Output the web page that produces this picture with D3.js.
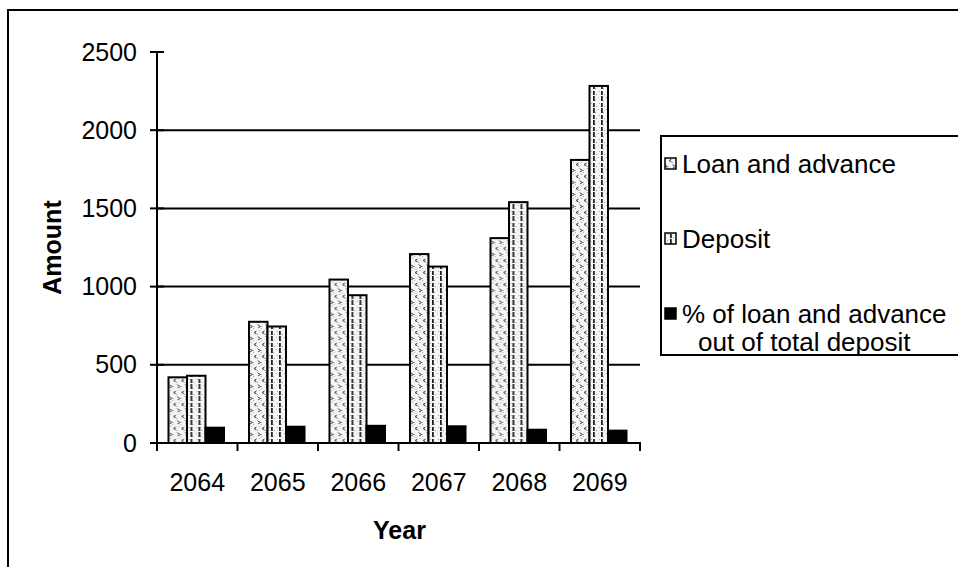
<!DOCTYPE html>
<html>
<head>
<meta charset="utf-8">
<script src="https://cdn.jsdelivr.net/npm/d3@7"></script>
<style>
  body { margin: 0; background: #fff; }
  text { font-family: "Liberation Sans", Arial, sans-serif; fill: #000; }
</style>
</head>
<body>
<svg width="958" height="567"></svg>
<script>
// data
var years = ["2064", "2065", "2066", "2067", "2068", "2069"];
var loanAdvance = [420, 775, 1045, 1208, 1310, 1810];
var deposit = [430, 745, 945, 1128, 1540, 2283];
var loanPct = [98, 104, 110, 107, 85, 79];
var seriesNames = ["Loan and advance", "Deposit", "% of loan and advance out of total deposit"];
var yTicks = [0, 500, 1000, 1500, 2000, 2500];

var svg = d3.select("svg"),
    width = +svg.attr("width"),
    height = +svg.attr("height");

// plot area
var plotLeft = 157, plotRight = 640, plotTop = 52, plotBottom = 443;

// outer frame
svg.append("rect")
    .attr("x", 8).attr("y", 10)
    .attr("width", 980).attr("height", 600)
    .attr("fill", "none")
    .attr("stroke", "#000")
    .attr("stroke-width", 2);

// patterns
var defs = svg.append("defs");

var pLoan = defs.append("pattern")
    .attr("id", "pLoan")
    .attr("patternUnits", "userSpaceOnUse")
    .attr("width", 8).attr("height", 12);
pLoan.append("rect").attr("width", 8).attr("height", 12).attr("fill", "#f5f5f5");
[[0,0],[4,2],[2,6],[6,8],[0,10],[4,4]].forEach(function(d) {
  pLoan.append("rect").attr("x", d[0]).attr("y", d[1]).attr("width", 1).attr("height", 1).attr("fill", "#aaa");
});
pLoan.append("path").attr("d", "M1,1 L3.5,2.5 L1,4").attr("fill", "none").attr("stroke", "#444").attr("stroke-width", 1);
pLoan.append("path").attr("d", "M7.5,7 L5,8.5 L7.5,10").attr("fill", "none").attr("stroke", "#444").attr("stroke-width", 1);

var pDep = defs.append("pattern")
    .attr("id", "pDep")
    .attr("patternUnits", "userSpaceOnUse")
    .attr("width", 8).attr("height", 12);
pDep.append("rect").attr("width", 8).attr("height", 12).attr("fill", "#f5f5f5");
[[3,1],[0,4],[4,7],[1,10]].forEach(function(d) {
  pDep.append("rect").attr("x", d[0]).attr("y", d[1]).attr("width", 1).attr("height", 1).attr("fill", "#aaa");
});
pDep.append("rect").attr("x", 6).attr("y", 0).attr("width", 1.8).attr("height", 5).attr("fill", "#222");
pDep.append("rect").attr("x", 6).attr("y", 7).attr("width", 1.8).attr("height", 4).attr("fill", "#222");

var fills = ["url(#pLoan)", "url(#pDep)", "#000"];

// scales
var x0 = d3.scaleBand().domain(years).range([plotLeft, plotRight]).padding(0);
var groupW = x0.bandwidth() / 1.45;
var x1 = d3.scaleBand().domain([0, 1, 2]).range([0, groupW]).padding(0);
var y = d3.scaleLinear().domain([0, 2500]).range([plotBottom, plotTop]);

// gridlines
svg.append("g")
  .selectAll("line")
  .data(yTicks.filter(function(d) { return d > 0 && d < 2500; }))
  .enter()
  .append("line")
    .attr("x1", plotLeft).attr("x2", plotRight)
    .attr("y1", function(d) { return y(d); })
    .attr("y2", function(d) { return y(d); })
    .attr("stroke", "#000")
    .attr("stroke-width", 2);

// bars
var rows = years.map(function(yr, i) {
  return { year: yr, values: [loanAdvance[i], deposit[i], loanPct[i]] };
});

var groups = svg.append("g")
  .selectAll("g")
  .data(rows)
  .enter()
  .append("g")
    .attr("transform", function(d) {
      return "translate(" + (x0(d.year) + (x0.bandwidth() - groupW) / 2 - 1) + ",0)";
    });

groups.selectAll("rect")
  .data(function(d) { return d.values; })
  .enter()
  .append("rect")
    .attr("x", function(d, i) { return x1(i); })
    .attr("y", function(d) { return y(d); })
    .attr("width", x1.bandwidth())
    .attr("height", function(d) { return y(0) - y(d); })
    .attr("fill", function(d, i) { return fills[i]; })
    .attr("stroke", "#000")
    .attr("stroke-width", 2);

// y axis
var yAxis = d3.axisLeft(y)
  .tickValues(yTicks)
  .tickFormat(d3.format("d"))
  .tickSize(0)
  .tickPadding(20);
var gy = svg.append("g")
  .attr("transform", "translate(" + plotLeft + ",0)")
  .call(yAxis);
gy.select(".domain").remove();
gy.selectAll("text").style("font-size", "25px").attr("fill", "#000");
gy.append("line")
  .attr("x1", 0).attr("x2", 0)
  .attr("y1", plotTop).attr("y2", plotBottom + 8)
  .attr("stroke", "#000").attr("stroke-width", 2);
gy.selectAll(".tickmark")
  .data(yTicks)
  .enter()
  .append("line")
    .attr("x1", -7).attr("x2", 7)
    .attr("y1", function(d) { return y(d); })
    .attr("y2", function(d) { return y(d); })
    .attr("stroke", "#000").attr("stroke-width", 2);

// x axis
var xAxis = d3.axisBottom(x0).tickSize(0).tickPadding(30);
var gx = svg.append("g")
  .attr("transform", "translate(0," + plotBottom + ")")
  .call(xAxis);
gx.select(".domain").remove();
gx.selectAll("text").style("font-size", "25px").attr("fill", "#000");
gx.append("line")
  .attr("x1", plotLeft).attr("x2", plotRight + 1)
  .attr("y1", 0).attr("y2", 0)
  .attr("stroke", "#000").attr("stroke-width", 2);
gx.selectAll(".tickmark")
  .data(years.concat(["end"]))
  .enter()
  .append("line")
    .attr("x1", function(d) { return d == "end" ? plotRight : x0(d); })
    .attr("x2", function(d) { return d == "end" ? plotRight : x0(d); })
    .attr("y1", 0).attr("y2", 8)
    .attr("stroke", "#000").attr("stroke-width", 2);

// axis titles
svg.append("text")
  .attr("x", (plotLeft + plotRight) / 2 + 1)
  .attr("y", 539)
  .attr("text-anchor", "middle")
  .style("font-size", "25px")
  .style("font-weight", "bold")
  .text("Year");

svg.append("text")
  .attr("transform", "translate(61," + ((plotTop + plotBottom) / 2) + ") rotate(-90)")
  .attr("text-anchor", "middle")
  .style("font-size", "25px")
  .style("font-weight", "bold")
  .text("Amount");

// legend
var legend = svg.append("g");
legend.append("rect")
  .attr("x", 661).attr("y", 136)
  .attr("width", 400).attr("height", 219)
  .attr("fill", "#fff")
  .attr("stroke", "#000")
  .attr("stroke-width", 2);

var legendY = [164, 239, 314];
var item = legend.selectAll(".item")
  .data(seriesNames)
  .enter()
  .append("g")
    .attr("class", "item")
    .attr("transform", function(d, i) { return "translate(0," + legendY[i] + ")"; });

item.append("rect")
  .attr("x", 665).attr("y", -6)
  .attr("width", 11).attr("height", 11)
  .attr("fill", function(d, i) { return fills[i]; })
  .attr("stroke", "#000")
  .attr("stroke-width", 1.5);

item.append("text")
  .attr("x", 682)
  .attr("dy", "0.35em")
  .style("font-size", "26px")
  .each(function(d, i) {
    var t = d3.select(this);
    if (i == 2) {
      t.append("tspan").attr("x", 682).text("% of loan and advance");
      t.append("tspan").attr("x", 698).attr("dy", 28).text("out of total deposit");
    } else {
      t.text(d);
    }
  });
</script>
</body>
</html>
